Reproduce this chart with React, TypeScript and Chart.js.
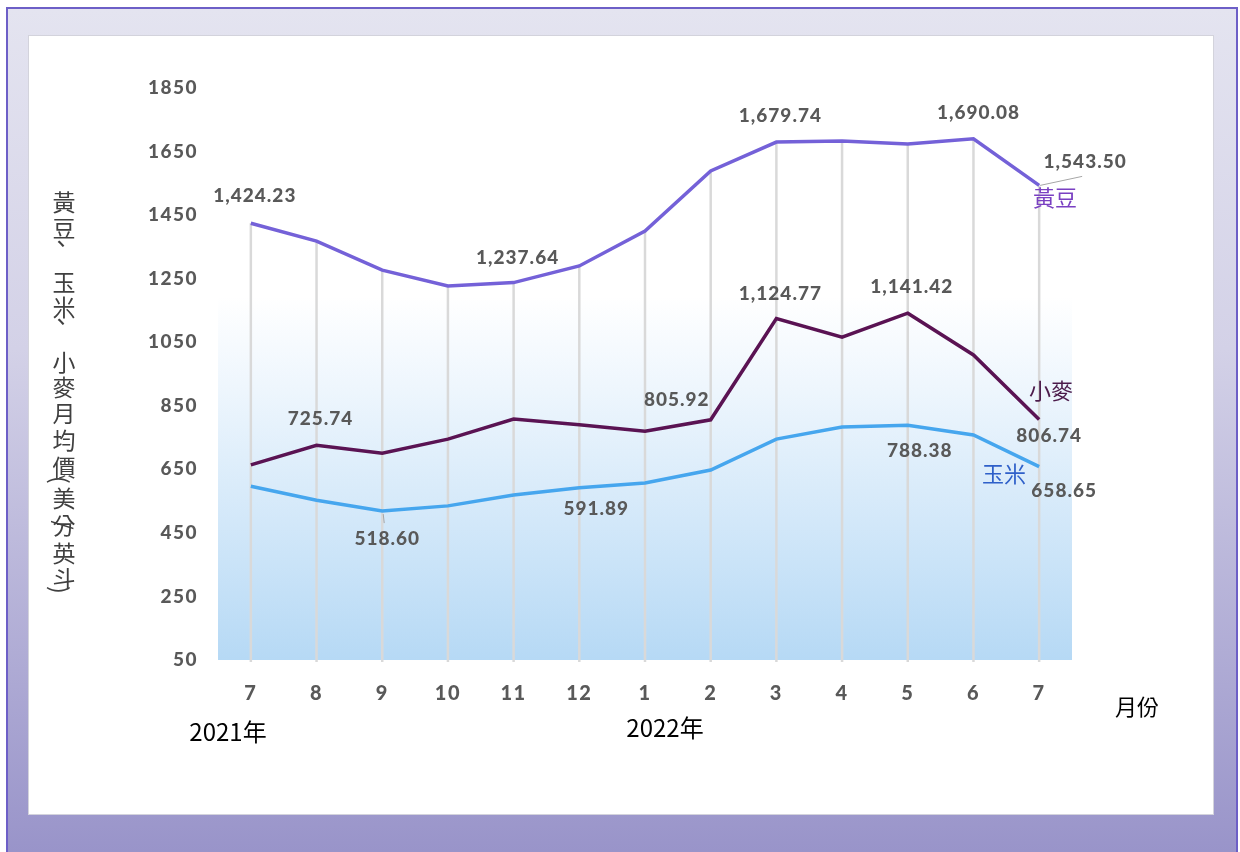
import React, { useEffect, useRef } from 'react';
import { Chart, registerables } from 'chart.js';

Chart.register(...registerables);

// ---------- data ----------
const months = ['7', '8', '9', '10', '11', '12', '1', '2', '3', '4', '5', '6', '7'];
const soybean = [1424.23, 1368, 1277, 1227, 1237.64, 1290, 1400, 1589, 1679.74, 1683, 1674, 1690.08, 1543.5];
const wheat = [664, 725.74, 701, 745, 808, 790, 770, 805.92, 1124.77, 1066, 1141.42, 1010, 806.74];
const corn = [597, 553, 518.6, 535, 569, 591.89, 607, 648, 745, 783, 788.38, 758, 658.65];
const seriesNames = ['黃豆', '小麥', '玉米'];
const seriesColors = ['#7461d8', '#5a1353', '#46a6ee'];
const yMin = 50;
const yMax = 1850;
const yStep = 200;
const yTitleChars = ['黃', '豆', '、', '玉', '米', '、', '小', '麥', '月', '均', '價', '(', '美', '分', '/', '英', '斗', ')'];
const yearLabels = ['2021年', '2022年'];
const xTitle = '月份';
// labelled points: [datasetIndex, pointIndex]
const labelledPoints: [number, number][] = [
  [0, 0], [0, 4], [0, 8], [0, 11], [0, 12],
  [1, 1], [1, 7], [1, 8], [1, 10], [1, 12],
  [2, 2], [2, 5], [2, 10], [2, 12],
];

// ---------- layout / style (page coords) ----------
const OX = 29;
const OY = 36;
const CW = 1184;
const CH = 778;

const labelOffsets: Record<string, [number, number]> = {
  '0-0': [4, -27], '0-4': [4, -25], '0-8': [4, -26], '0-11': [5, -26], '0-12': [46, -24],
  '1-1': [4, -26], '1-7': [-34, -20], '1-8': [4, -25], '1-10': [4, -26], '1-12': [10, 16],
  '2-2': [5, 28], '2-5': [17, 21], '2-10': [12, 26], '2-12': [25, 24],
};

const fmt = (v: number) => v.toLocaleString('en-US', { minimumFractionDigits: 2, maximumFractionDigits: 2 });

const decorPlugin = {
  id: 'decor',
  beforeDraw(chart: any) {
    chart.ctx.letterSpacing = '1.5px';
  },
  beforeDatasetsDraw(chart: any) {
    const ctx = chart.ctx;
    const a = chart.chartArea;
    ctx.save();
    ctx.letterSpacing = '0px';
    const top = a.top + 0.365 * (a.bottom - a.top);
    const g = ctx.createLinearGradient(0, top, 0, a.bottom);
    g.addColorStop(0, 'rgba(255,255,255,1)');
    g.addColorStop(0.25, '#eef6fd');
    g.addColorStop(1, '#b6d9f5');
    ctx.fillStyle = g;
    ctx.fillRect(a.left, top, a.right - a.left, a.bottom - top);
    const metas = chart.data.datasets.map((_: any, d: number) => chart.getDatasetMeta(d));
    ctx.strokeStyle = '#d9d9d9';
    ctx.lineWidth = 2.5;
    for (let i = 0; i < months.length; i++) {
      let yTop = Infinity;
      let x = 0;
      metas.forEach((m: any) => {
        const p = m.data[i];
        if (p.y < yTop) { yTop = p.y; x = p.x; }
      });
      ctx.beginPath();
      ctx.moveTo(x, yTop);
      ctx.lineTo(x, a.bottom + 2);
      ctx.stroke();
    }
    ctx.restore();
  },
  afterDatasetsDraw(chart: any) {
    const ctx = chart.ctx;
    ctx.save();
    ctx.strokeStyle = '#a6a6a6';
    ctx.lineWidth = 1;
    const ps = chart.getDatasetMeta(0).data[12];
    ctx.beginPath();
    ctx.moveTo(ps.x + 1, ps.y);
    ctx.lineTo(ps.x + 43, ps.y - 9);
    ctx.stroke();
    const pc = chart.getDatasetMeta(2).data[2];
    ctx.beginPath();
    ctx.moveTo(pc.x + 1, pc.y + 3);
    ctx.lineTo(pc.x + 2, pc.y + 12);
    ctx.stroke();

    // data labels
    ctx.font = '900 19px Lato';
    ctx.fillStyle = '#595959';
    ctx.textAlign = 'center';
    ctx.textBaseline = 'middle';
    ctx.letterSpacing = '1px';
    labelledPoints.forEach(([d, i]) => {
      const p = chart.getDatasetMeta(d).data[i];
      const [dx, dy] = labelOffsets[`${d}-${i}`];
      const v = chart.data.datasets[d].data[i];
      ctx.fillText(fmt(v), p.x + dx, p.y + dy);
    });
    ctx.letterSpacing = '0px';

    // series names
    ctx.font = '22px "Noto Sans CJK TC"';
    const namePos: [number, number][] = [[1055, 198], [1051, 391], [1004, 474]];
    const nameColors = ['#7a40c2', '#4b1a4a', '#2f60c9'];
    seriesNames.forEach((n, k) => {
      ctx.fillStyle = nameColors[k];
      ctx.fillText(n, namePos[k][0] - OX, namePos[k][1] - OY);
    });

    // years and x title
    ctx.fillStyle = '#000000';
    ctx.font = '24px "Noto Sans CJK TC"';
    ctx.fillText(yearLabels[0], 228 - OX, 732 - OY);
    ctx.fillText(yearLabels[1], 665 - OX, 728 - OY);
    ctx.font = '22px "Noto Sans CJK TC"';
    ctx.fillText(xTitle, 1137 - OX, 707 - OY);

    // y title (vertical)
    ctx.fillStyle = '#404040';
    ctx.font = '23px "Noto Sans CJK TC"';
    const ys = [202, 228, 246, 282, 307, 324, 362, 387, 413, 440, 467, 480, 498, 525, 525, 553, 578, 590];
    yTitleChars.forEach((c, k) => {
      const x = 64 - OX;
      const y = ys[k] - OY;
      if (c === '、') {
        ctx.fillText(c, x - 3, y - 3);
      } else if (c === '(' || c === ')' || c === '/') {
        ctx.save();
        ctx.translate(c === '/' ? x : x - 4, y);
        ctx.rotate(Math.PI / 2);
        ctx.fillText(c, 0, 0);
        ctx.restore();
      } else {
        ctx.fillText(c, x, y);
      }
    });
    ctx.restore();
  },
};

export default function App() {
  const ref = useRef<HTMLCanvasElement>(null);
  useEffect(() => {
    if (!ref.current) return;
    const chart = new Chart(ref.current, {
      type: 'line',
      data: {
        labels: months,
        datasets: [
          { label: seriesNames[0], data: soybean, borderColor: seriesColors[0], borderWidth: 3.5, pointRadius: 0, tension: 0, fill: false },
          { label: seriesNames[1], data: wheat, borderColor: seriesColors[1], borderWidth: 3.5, pointRadius: 0, tension: 0, fill: false },
          { label: seriesNames[2], data: corn, borderColor: seriesColors[2], borderWidth: 3.5, pointRadius: 0, tension: 0, fill: false },
        ],
      },
      options: {
        responsive: false,
        animation: false,
        devicePixelRatio: 1,
        layout: { padding: { top: 52, right: 141, left: 0, bottom: 0 } },
        plugins: { legend: { display: false }, tooltip: { enabled: false } },
        scales: {
          x: {
            offset: true,
            grid: { display: false, drawTicks: false },
            border: { display: false },
            ticks: { color: '#595959', font: { family: 'Lato', weight: '900', size: 20 }, padding: 22, maxRotation: 0, autoSkip: false },
            afterFit: (s: any) => { s.height = 154; },
          },
          y: {
            min: yMin,
            max: yMax,
            grid: { display: false, drawTicks: false },
            border: { display: false },
            ticks: { stepSize: yStep, color: '#595959', font: { family: 'Lato', weight: '900', size: 19 }, padding: 20, callback: (v: any) => String(v) },
            afterFit: (s: any) => { s.width = 189; },
          },
        },
      },
      plugins: [decorPlugin],
    } as any);
    return () => chart.destroy();
  }, []);

  return (
    <div style={{ position: 'absolute', left: 0, top: 0, width: 1240, height: 852, background: '#ffffff', overflow: 'hidden' }}>
      <div style={{ position: 'absolute', left: 6, top: 7, width: 1228, height: 850, border: '2px solid #6d5fc7', background: 'linear-gradient(#e4e4f0, #d3d1e7 40%, #9893c9)' }}>
      </div>
      <div style={{ position: 'absolute', left: 28, top: 35, width: CW, height: CH, border: '1px solid #d3d3dc', background: '#ffffff' }}>
        <canvas ref={ref} width={CW} height={CH} style={{ display: 'block', width: CW, height: CH }} />
      </div>
    </div>
  );
}
